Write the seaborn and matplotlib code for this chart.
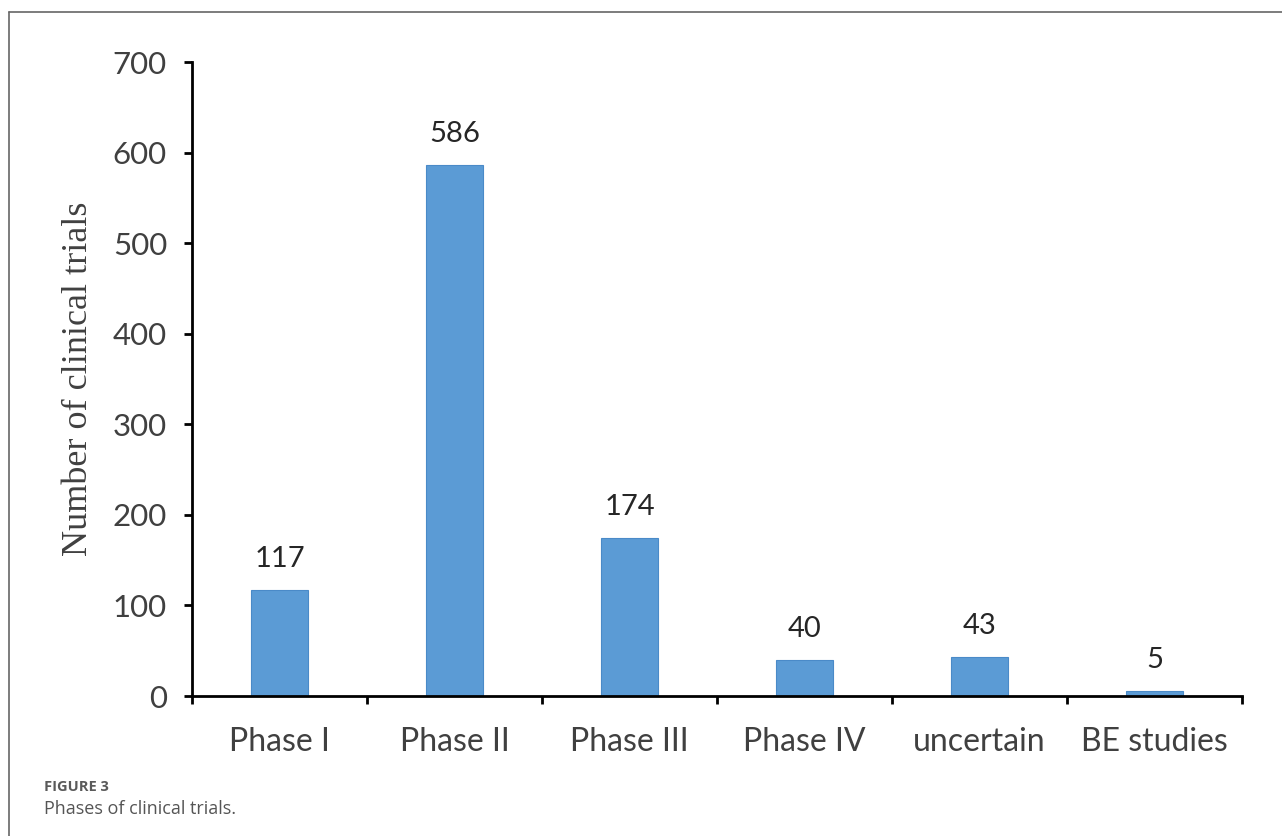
import matplotlib
matplotlib.use("Agg")
import matplotlib.pyplot as plt
from matplotlib.lines import Line2D
import seaborn as sns
import pandas as pd

phases = ["Phase I", "Phase II", "Phase III", "Phase IV", "uncertain", "BE studies"]
trial_counts = [117, 586, 174, 40, 43, 5]
y_ticks = [0, 100, 200, 300, 400, 500, 600, 700]

sns.set_theme(style="white")
plt.rcParams["font.family"] = ["Lato", "DejaVu Sans"]

df = pd.DataFrame({"phase": phases, "count": trial_counts})

fig = plt.figure(figsize=(12.82, 8.36), dpi=100)
ax = fig.add_axes([192 / 1282, 1 - 696 / 836, 1050 / 1282, (696 - 62) / 836])

sns.barplot(data=df, x="phase", y="count", color="#5B9BD5", saturation=1,
            width=0.33, ax=ax, edgecolor="#4A8AC8", linewidth=0.8)

ax.set_xlim(-0.5, len(phases) - 0.5)
ax.set_ylim(0, 700)
ax.set_yticks(y_ticks)
ax.set_xlabel("")
ax.set_ylabel("Number of clinical trials", family=["Liberation Serif"],
              fontsize=26, color="#404040", labelpad=13)

for side in ("top", "right"):
    ax.spines[side].set_visible(False)
for side in ("left", "bottom"):
    ax.spines[side].set_color("black")
    ax.spines[side].set_linewidth(2)

ax.tick_params(axis="y", direction="out", length=6, width=2, color="black",
               labelsize=22.5, labelcolor="#404040", pad=12, left=True)
ax.tick_params(axis="x", which="major", length=0, labelsize=23,
               labelcolor="#404040", pad=22)
ax.set_xticks([i - 0.5 for i in range(len(phases) + 1)], minor=True)
ax.tick_params(axis="x", which="minor", direction="out", length=6, width=2,
               color="black", bottom=True)

for container in ax.containers:
    ax.bar_label(container, labels=[str(v) for v in trial_counts],
                 padding=13, fontsize=21, color="#262626")

# figure frame (top and left rules)
fig.add_artist(Line2D([9 / 1282, 1], [1 - 12 / 836, 1 - 12 / 836],
                      transform=fig.transFigure, color="#666666", lw=1.2))
fig.add_artist(Line2D([9 / 1282, 9 / 1282], [0, 1 - 12 / 836],
                      transform=fig.transFigure, color="#666666", lw=1.2))

fig.text(44 / 1282, 1 - 787 / 836, "FIGURE 3", family=["Open Sans"],
         fontsize=10.5, fontweight="bold", color="#5a5a5a", va="center")
fig.text(44 / 1282, 1 - 809 / 836, "Phases of clinical trials.",
         family=["Open Sans"], fontsize=13, color="#555555", va="center")

fig.savefig("out.png", dpi=100)
